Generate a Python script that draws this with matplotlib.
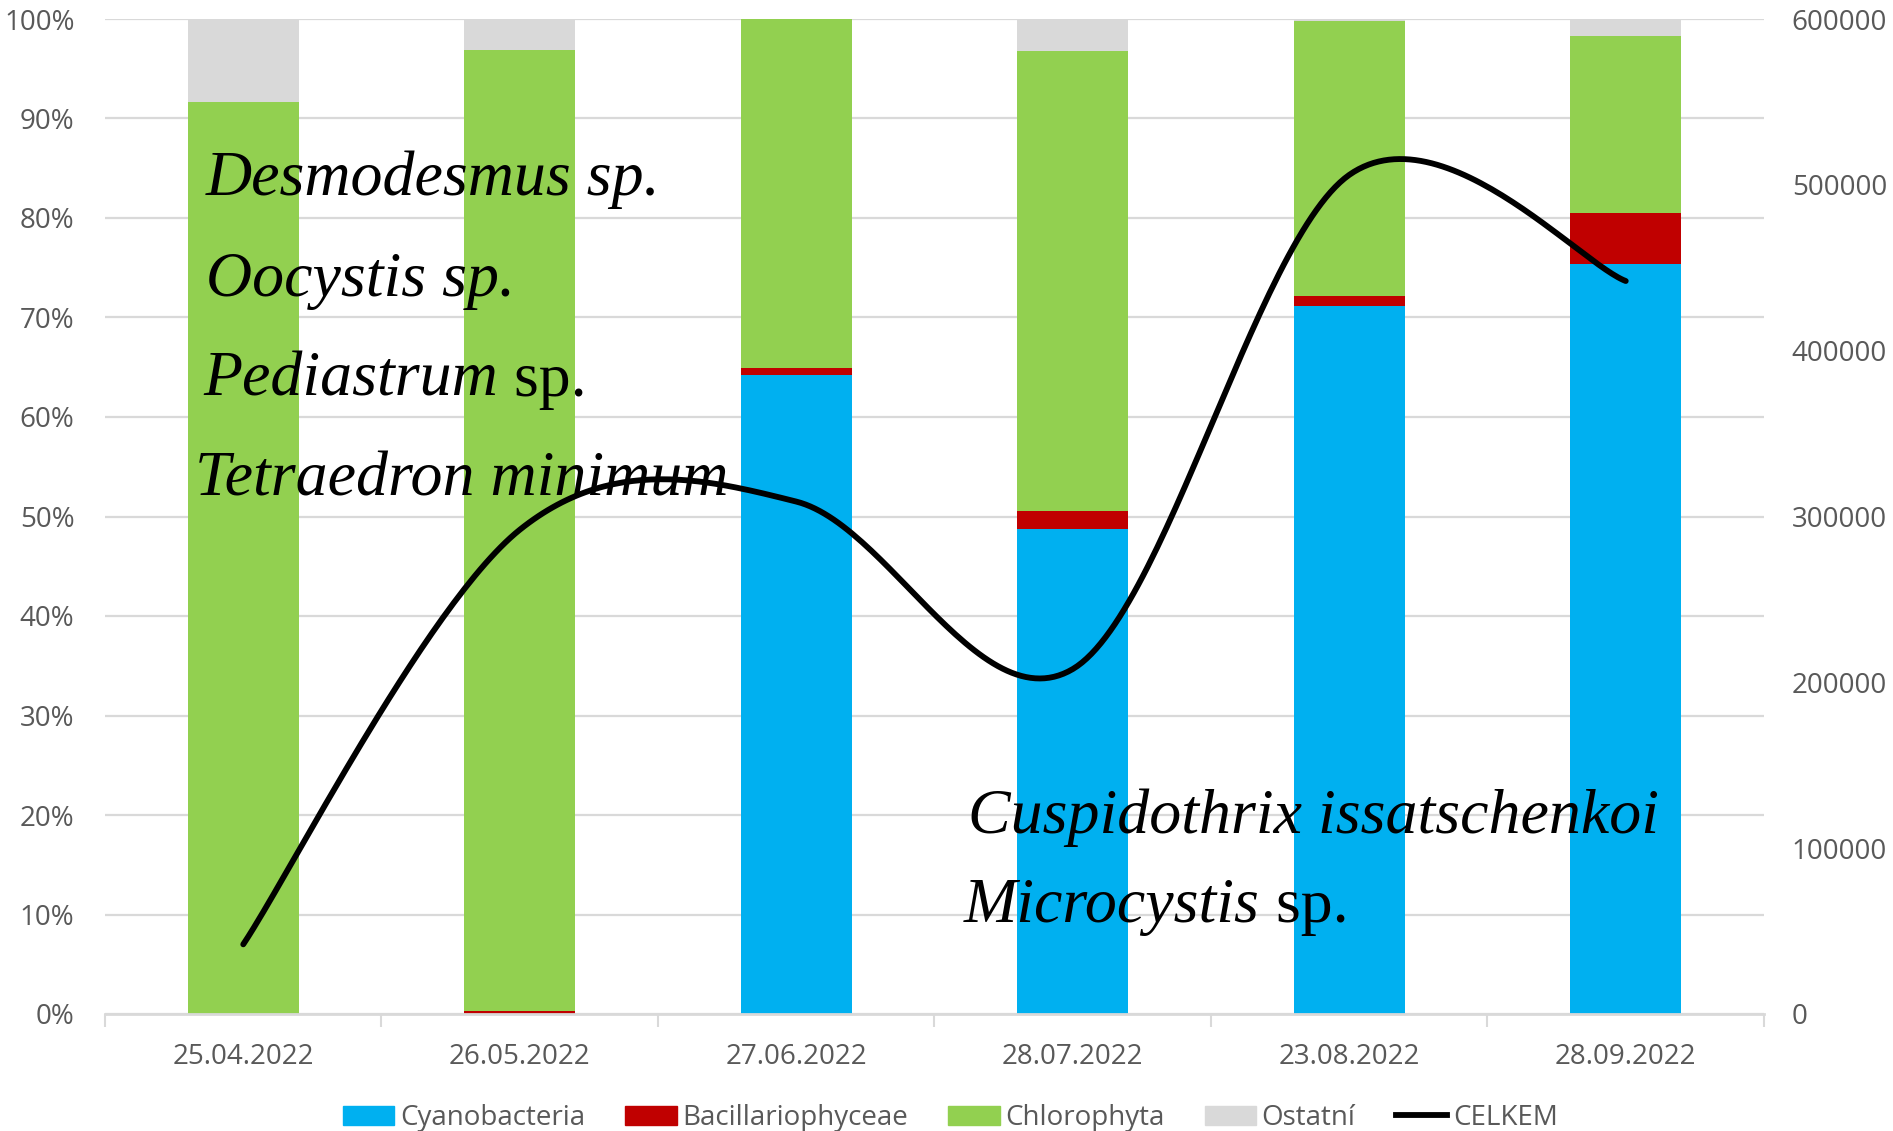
import matplotlib
matplotlib.use("Agg")
import matplotlib.pyplot as plt
import numpy as np
from matplotlib.ticker import FuncFormatter, MultipleLocator
from matplotlib.lines import Line2D
from matplotlib.patches import Patch

plt.rcParams["font.family"] = ["Open Sans", "DejaVu Sans"]

# data (shares in %, total cells in CELKEM)
dates = ["25.04.2022", "26.05.2022", "27.06.2022", "28.07.2022", "23.08.2022", "28.09.2022"]
cyanobacteria = [0.0, 0.0, 64.2, 48.7, 71.2, 75.4]
bacillariophyceae = [0.0, 0.3, 0.7, 1.9, 1.0, 5.1]
chlorophyta = [91.7, 96.6, 35.1, 46.2, 27.6, 17.8]
ostatni = [8.3, 3.1, 0.0, 3.2, 0.2, 1.7]
celkem = [42000, 292000, 309000, 208000, 506000, 442000]

colors = {"Cyanobacteria": "#00B0F0", "Bacillariophyceae": "#C00000",
          "Chlorophyta": "#92D050", "Ostatní": "#D9D9D9"}
grey_text = "#595959"

W, H = 1893, 1131
fig = plt.figure(figsize=(W / 100, H / 100), dpi=100)
ax = fig.add_axes([105 / W, 1 - 1014 / H, (1764 - 105) / W, (1014 - 19) / H])
ax2 = ax.twinx()

x = np.arange(len(dates))
bottom = np.zeros(len(dates))
for name, vals in [("Cyanobacteria", cyanobacteria), ("Bacillariophyceae", bacillariophyceae),
                   ("Chlorophyta", chlorophyta), ("Ostatní", ostatni)]:
    ax.bar(x, vals, 0.4, bottom=bottom, color=colors[name], zorder=2)
    bottom += np.array(vals)

ax.set_xlim(-0.5, len(dates) - 0.5)
ax.set_ylim(0, 100)
ax.yaxis.set_major_locator(MultipleLocator(10))
ax.yaxis.set_major_formatter(FuncFormatter(lambda v, p: f"{v:.0f}%"))
ax.grid(axis="y", color="#D9D9D9", linewidth=1.6, zorder=0)
ax.set_axisbelow(True)
ax.set_xticks(x)
ax.set_xticklabels(dates)
ax.set_xticks(np.arange(-0.5, len(dates), 1), minor=True)
ax.tick_params(axis="x", which="major", length=0, pad=21, labelsize=20, labelcolor=grey_text)
ax.tick_params(axis="x", which="minor", length=9, width=1.5, color="#D9D9D9")
ax.tick_params(axis="y", length=0, pad=22, labelsize=20, labelcolor=grey_text)
for s in ["top", "left", "right"]:
    ax.spines[s].set_visible(False)
ax.spines["bottom"].set_color("#D9D9D9")
ax.spines["bottom"].set_linewidth(2)

# Excel-like smoothed line (Catmull-Rom bezier in screen proportions)
sx = (1764 - 105) / len(dates)
sy = (1014 - 19) / 600000
P = np.column_stack([x * sx, np.array(celkem) * sy])
Pext = np.vstack([P[0], P, P[-1]])
curve = []
t = np.linspace(0, 1, 60)[:, None]
for i in range(len(P) - 1):
    p0, p3 = Pext[i + 1], Pext[i + 2]
    b1 = p0 + (Pext[i + 2] - Pext[i]) / 6
    b2 = p3 - (Pext[i + 3] - Pext[i + 1]) / 6
    seg = (1 - t) ** 3 * p0 + 3 * (1 - t) ** 2 * t * b1 + 3 * (1 - t) * t ** 2 * b2 + t ** 3 * p3
    curve.append(seg)
curve = np.vstack(curve)
ax2.plot(curve[:, 0] / sx, curve[:, 1] / sy, color="black", linewidth=4.2,
         solid_capstyle="round", zorder=3)
ax2.set_ylim(0, 600000)
ax2.yaxis.set_major_locator(MultipleLocator(100000))
ax2.yaxis.set_major_formatter(FuncFormatter(lambda v, p: f"{v:.0f}"))
ax2.tick_params(axis="y", length=0, pad=20, labelsize=20, labelcolor=grey_text)
for s in ax2.spines.values():
    s.set_visible(False)

# legend
handles = [Patch(color=colors[n]) for n in colors] + [Line2D([], [], color="black", linewidth=4.2)]
labels = list(colors) + ["CELKEM"]
fig.legend(handles, labels, loc="center", bbox_to_anchor=(0.502, 1 - 1118 / H), ncol=5,
           frameon=False, fontsize=20, labelcolor=grey_text, handlelength=1.85,
           handleheight=0.68, handletextpad=0.2, columnspacing=1.45)

# species names
serif = "Liberation Serif"
fig.canvas.draw()
renderer = fig.canvas.get_renderer()


def species(px, py, italic_part, upright_part=""):
    t1 = fig.text(px / W, 1 - py / H, italic_part, family=serif, style="italic",
                  fontsize=46, va="baseline", ha="left", color="black", zorder=5)
    if upright_part:
        bb = t1.get_window_extent(renderer)
        fig.text(bb.x1 / W, 1 - py / H, upright_part, family=serif, fontsize=46,
                 va="baseline", ha="left", color="black", zorder=5)


species(206, 195, "Desmodesmus sp.")
species(206, 296, "Oocystis sp.")
species(203, 396, "Pediastrum", " sp.")
species(195, 496, "Tetraedron minimum")
species(968, 833, "Cuspidothrix issatschenkoi")
species(964, 922, "Microcystis", " sp.")

fig.savefig("out.png", dpi=100)
